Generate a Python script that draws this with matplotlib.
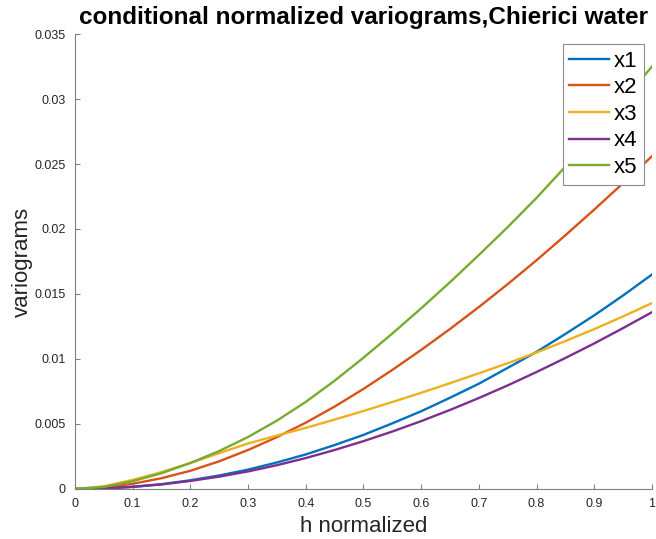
import matplotlib
matplotlib.use("Agg")
import matplotlib.pyplot as plt
from matplotlib.ticker import FixedLocator, FixedFormatter

plt.rcParams['font.family'] = ['Liberation Sans', 'DejaVu Sans']

# normalized lag distance
h = [0.00, 0.05, 0.10, 0.15, 0.20, 0.25, 0.30, 0.35, 0.40, 0.45, 0.50,
     0.55, 0.60, 0.65, 0.70, 0.75, 0.80, 0.85, 0.90, 0.95, 1.00]

# conditional normalized variograms per variable
x1 = [0.0, 0.00004, 0.00017, 0.00037, 0.00067, 0.00104, 0.00149, 0.00204, 0.00266, 0.00338, 0.00416,
      0.00505, 0.00598, 0.00702, 0.00810, 0.00932, 0.01055, 0.01193, 0.01336, 0.01489, 0.01650]
x2 = [0.0, 0.00010, 0.00040, 0.00083, 0.00140, 0.00213, 0.00300, 0.00399, 0.00510, 0.00634, 0.00770,
      0.00916, 0.01070, 0.01231, 0.01400, 0.01576, 0.01760, 0.01952, 0.02150, 0.02353, 0.02560]
x3 = [0.0, 0.00020, 0.00070, 0.00130, 0.00200, 0.00276, 0.00350, 0.00411, 0.00470, 0.00534, 0.00600,
      0.00669, 0.00740, 0.00814, 0.00890, 0.00968, 0.01050, 0.01138, 0.01230, 0.01328, 0.01430]
x4 = [0.0, 0.00004, 0.00016, 0.00035, 0.00062, 0.00095, 0.00135, 0.00183, 0.00238, 0.00300, 0.00368,
      0.00442, 0.00522, 0.00608, 0.00700, 0.00797, 0.00900, 0.01008, 0.01120, 0.01238, 0.01360]
x5 = [0.0, 0.00016, 0.00060, 0.00121, 0.00200, 0.00292, 0.00400, 0.00526, 0.00670, 0.00833, 0.01010,
      0.01196, 0.01390, 0.01591, 0.01800, 0.02015, 0.02240, 0.02480, 0.02730, 0.02986, 0.03250]

series = [x1, x2, x3, x4, x5]
names = ['x1', 'x2', 'x3', 'x4', 'x5']
colors = ['#0072BD', '#D95319', '#EDB120', '#7E2F8E', '#77AC30']

xticks = [0.0, 0.1, 0.2, 0.3, 0.4, 0.5, 0.6, 0.7, 0.8, 0.9, 1.0]
xticklabels = ['0', '0.1', '0.2', '0.3', '0.4', '0.5', '0.6', '0.7', '0.8', '0.9', '1']
yticks = [0.0, 0.005, 0.01, 0.015, 0.02, 0.025, 0.03, 0.035]
yticklabels = ['0', '0.005', '0.01', '0.015', '0.02', '0.025', '0.03', '0.035']

fig = plt.figure(figsize=(6.56, 5.39), dpi=100)
ax = fig.add_axes([0.1143, 0.0928, 0.8796, 0.8441])

for y, name, c in zip(series, names, colors):
    ax.plot(h, y, color=c, lw=1.7, label=name)

ax.set_xlim(0, 1)
ax.set_ylim(0, 0.035)
ax.xaxis.set_major_locator(FixedLocator(xticks))
ax.xaxis.set_major_formatter(FixedFormatter(xticklabels))
ax.yaxis.set_major_locator(FixedLocator(yticks))
ax.yaxis.set_major_formatter(FixedFormatter(yticklabels))

for side in ('top', 'right'):
    ax.spines[side].set_visible(False)
for side in ('left', 'bottom'):
    ax.spines[side].set_color('#808080')
    ax.spines[side].set_linewidth(0.8)

ax.tick_params(direction='in', length=3.6, width=0.8, color='#808080',
               labelsize=9, labelcolor='#262626', pad=6.5)

ax.set_xlabel('h normalized', fontsize=16, color='#262626', labelpad=4)
ax.set_ylabel('variograms', fontsize=16, color='#262626', labelpad=1)
ax.set_title('conditional normalized variograms,Chierici water',
             fontsize=17.5, fontweight='bold', color='black', pad=7)

leg = ax.legend(loc='upper right', bbox_to_anchor=(0.986, 0.978),
                borderaxespad=0, fontsize=16, handlelength=1.8,
                handletextpad=0.2, labelspacing=0.25, borderpad=0.3,
                fancybox=False, framealpha=1, edgecolor='#8c8c8c')
leg.get_frame().set_linewidth(0.8)

fig.savefig('out.png', dpi=100)
